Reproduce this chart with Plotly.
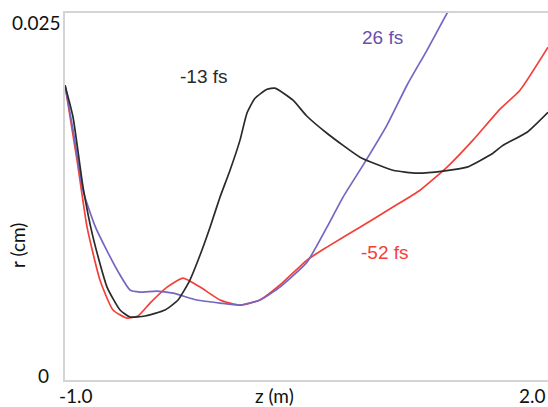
import plotly.graph_objects as go

# -13 fs (black)
z_m13 = [-1.000, -0.950, -0.888, -0.826, -0.739, -0.658, -0.596, -0.503, -0.379, -0.298,
         -0.224, -0.161, -0.099, -0.037, 0.025, 0.087, 0.130, 0.180, 0.255, 0.304,
         0.416, 0.500, 0.627, 0.832, 1.037, 1.186, 1.348, 1.497, 1.658,
         1.720, 1.870, 2.000]
r_m13 = [0.02008, 0.01790, 0.01314, 0.00973, 0.00633, 0.00477, 0.00429, 0.00436, 0.00477, 0.00545,
         0.00681, 0.00851, 0.01041, 0.01246, 0.01429, 0.01634, 0.01817, 0.01919, 0.01981, 0.01988,
         0.01906, 0.01800, 0.01681, 0.01518, 0.01429, 0.01409, 0.01423, 0.01450, 0.01545,
         0.01598, 0.01688, 0.01824]

# -52 fs (red)
z_m52 = [-1.000, -0.925, -0.863, -0.783, -0.702, -0.615, -0.547, -0.472, -0.366, -0.267,
         -0.161, -0.037, 0.087, 0.211, 0.335, 0.503, 0.627, 0.832, 1.037, 1.205,
         1.373, 1.534, 1.702, 1.826, 2.000]
r_m52 = [0.02008, 0.01497, 0.01041, 0.00681, 0.00477, 0.00422, 0.00436, 0.00524, 0.00633, 0.00694,
         0.00633, 0.00545, 0.00510, 0.00545, 0.00647, 0.00817, 0.00905, 0.01041, 0.01178, 0.01293,
         0.01450, 0.01634, 0.01845, 0.01974, 0.02267]

# 26 fs (purple)
z_26 = [-1.000, -0.950, -0.888, -0.814, -0.739, -0.658, -0.596, -0.534, -0.429, -0.329,
        -0.180, -0.037, 0.087, 0.211, 0.335, 0.503, 0.627, 0.727, 0.863, 1.000,
        1.124, 1.248, 1.373, 1.422]
r_26 = [0.02008, 0.01702, 0.01290, 0.01050, 0.00880, 0.00715, 0.00613, 0.00599, 0.00606, 0.00592,
        0.00545, 0.00524, 0.00510, 0.00545, 0.00633, 0.00803, 0.01041, 0.01246, 0.01484, 0.01736,
        0.02008, 0.02246, 0.02498, 0.02586]

series_names = ["-13 fs", "-52 fs", "26 fs"]
colors = ["#2a2a2a", "#f2403a", "#7566c2"]

x_ticks = ["-1.0", "2.0"]
y_ticks = ["0", "0.025"]

fig = go.Figure()
for z, r, c in [(z_m52, r_m52, colors[1]), (z_26, r_26, colors[2]), (z_m13, r_m13, colors[0])]:
    fig.add_trace(go.Scatter(x=z, y=r, mode="lines",
                             line=dict(color=c, width=1.7, shape="spline", smoothing=0.5),
                             showlegend=False, hoverinfo="skip"))

tick_font = dict(family="Lato, Open Sans, sans-serif", size=19, color="#111")
lab_font = dict(family="Liberation Sans, Arial, sans-serif", size=19)

fig.update_layout(
    width=548, height=407,
    margin=dict(l=65, r=0, t=13, b=27),
    paper_bgcolor="white", plot_bgcolor="white",
    xaxis=dict(range=[-1.0, 2.0], showgrid=False, zeroline=False, showticklabels=False,
               ticks="", showline=True, linecolor="#d4d4d4", linewidth=1.5, mirror=True),
    yaxis=dict(range=[0, 0.025], showgrid=False, zeroline=False, showticklabels=False,
               ticks="", showline=True, linecolor="#d4d4d4", linewidth=1.5),
    annotations=[
        dict(text=x_ticks[0], xref="paper", yref="paper", x=0.0228, y=-0.041,
             showarrow=False, font=tick_font, xanchor="center", yanchor="middle"),
        dict(text=x_ticks[1], xref="paper", yref="paper", x=1.0, y=-0.041,
             showarrow=False, font=tick_font, xanchor="right", yanchor="middle"),
        dict(text="z (m)", xref="paper", yref="paper", x=0.433, y=-0.041,
             showarrow=False, font=tick_font, xanchor="center", yanchor="middle"),
        dict(text=y_ticks[0], xref="paper", yref="paper", x=-0.03, y=0.0136,
             showarrow=False, font=tick_font, xanchor="right", yanchor="middle"),
        dict(text=y_ticks[1], xref="paper", yref="paper", x=-0.004, y=0.975,
             showarrow=False, font=tick_font, xanchor="right", yanchor="middle"),
        dict(text="r (cm)", xref="paper", yref="paper", x=-0.098, y=0.367,
             showarrow=False, font=tick_font, textangle=-90, xanchor="center", yanchor="middle"),
        dict(text=series_names[0], x=-0.137, y=0.0207, showarrow=False,
             font=dict(lab_font, color=colors[0]), xanchor="center", yanchor="middle"),
        dict(text=series_names[2], x=0.975, y=0.02335, showarrow=False,
             font=dict(lab_font, color="#6a4fb0"), xanchor="center", yanchor="middle"),
        dict(text=series_names[1], x=0.99, y=0.0087, showarrow=False,
             font=dict(lab_font, color=colors[1]), xanchor="center", yanchor="middle"),
    ],
)

fig.write_html("out.html")
